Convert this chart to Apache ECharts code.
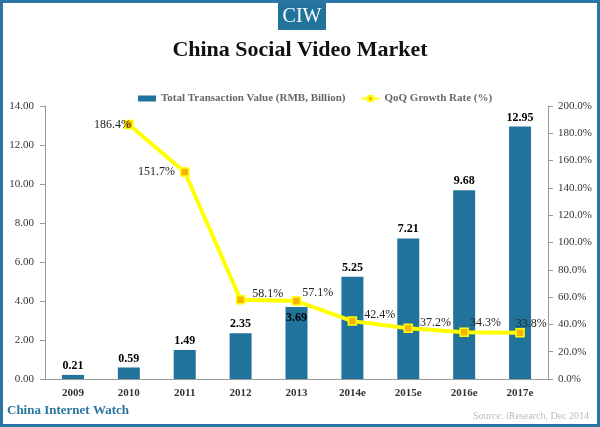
<!DOCTYPE html>
<html><head><meta charset="utf-8">
<script src="https://cdn.jsdelivr.net/npm/echarts@6/dist/echarts.min.js"></script>
<style>html,body{margin:0;padding:0;background:#fff}#c{width:600px;height:427px}</style>
</head><body><div id="c"></div>
<script>
const categories = ['2009','2010','2011','2012','2013','2014e','2015e','2016e','2017e'];
const transactionValue = [0.21, 0.59, 1.49, 2.35, 3.69, 5.25, 7.21, 9.68, 12.95];
const growthRate = [null, 186.4, 151.7, 58.1, 57.1, 42.4, 37.2, 34.3, 33.8];
const leftTicks = [0, 14, 2];
const rightTicks = [0, 200, 20];

const serif = 'Liberation Serif';
const chart = echarts.init(document.getElementById('c'));

const lineLabelPos = ['right','left','left','right','right','right','right','right','right'];
const lineLabelOff = [[0,0],[12,0],[0,0],[2,-6],[-4,-8],[2,-6],[2,-5],[-4,-9],[-14,-9]];

chart.setOption({
  animation: false,
  title: {
    text: 'China Social Video Market', left: 'center', top: 34,
    textStyle: {fontFamily: serif, fontWeight: 'bold', fontSize: 22, color: '#111'}
  },
  legend: {
    top: 88, left: 133, itemGap: 15, itemWidth: 18, itemHeight: 6,
    textStyle: {fontFamily: serif, fontSize: 11, color: '#666', fontWeight: 'bold'},
    data: [
      {name: 'Total Transaction Value (RMB, Billion)', icon: 'rect'},
      {name: 'QoQ Growth Rate (%)'}
    ]
  },
  grid: {left: 45, right: 52, top: 106, bottom: 48},
  xAxis: {
    type: 'category', data: categories,
    axisLine: {lineStyle: {color: '#999'}},
    axisTick: {show: false},
    axisLabel: {fontFamily: serif, fontWeight: 'bold', fontSize: 11, color: '#333', margin: 9}
  },
  yAxis: [
    {type: 'value', min: leftTicks[0], max: leftTicks[1], interval: leftTicks[2],
     axisLine: {show: true, lineStyle: {color: '#999'}},
     axisTick: {show: true, lineStyle: {color: '#999'}},
     splitLine: {show: false},
     axisLabel: {fontFamily: serif, fontSize: 11, color: '#333', formatter: v => v.toFixed(2), margin: 11}},
    {type: 'value', min: rightTicks[0], max: rightTicks[1], interval: rightTicks[2],
     axisLine: {show: true, lineStyle: {color: '#999'}},
     axisTick: {show: true, lineStyle: {color: '#999'}},
     splitLine: {show: false},
     axisLabel: {fontFamily: serif, fontSize: 11, color: '#333', formatter: v => v.toFixed(1) + '%', margin: 10}}
  ],
  series: [
    {
      name: 'Total Transaction Value (RMB, Billion)', type: 'bar', barWidth: 22,
      itemStyle: {color: '#21739b'},
      data: transactionValue.map((v, i) => ({
        value: v,
        label: i === 4 ? {position: 'insideTop', offset: [0, 2]} : undefined
      })),
      label: {show: true, position: 'top', distance: 3, fontFamily: serif, fontWeight: 'bold', fontSize: 12, color: '#000',
        formatter: p => p.value.toFixed(2)}
    },
    {
      name: 'QoQ Growth Rate (%)', type: 'line', yAxisIndex: 1,
      symbol: 'rect', symbolSize: 8,
      lineStyle: {color: '#ffff00', width: 4},
      itemStyle: {color: '#f5b400', borderColor: '#ffff00', borderWidth: 1.5},
      data: growthRate.map((v, i) => ({
        value: v,
        label: {position: lineLabelPos[i], offset: lineLabelOff[i]}
      })),
      label: {show: true, fontFamily: serif, fontSize: 12, color: '#222',
        formatter: p => p.value.toFixed(1) + '%'}
    }
  ],
  graphic: [
    {type: 'rect', shape: {x: 1.5, y: 1.5, width: 597, height: 424}, style: {fill: 'none', stroke: '#2a77a5', lineWidth: 3}, z: 100},
    {type: 'rect', shape: {x: 278, y: 3, width: 48, height: 27}, style: {fill: '#21739b'}},
    {type: 'text', style: {text: 'CIW', x: 302, y: 17, textAlign: 'center', textVerticalAlign: 'middle', fill: '#fff', font: '20px "Liberation Serif"'}},
    {type: 'text', style: {text: 'China Internet Watch', x: 7, y: 411, textVerticalAlign: 'middle', fill: '#2a75a0', font: 'bold 13px "Liberation Serif"'}},
    {type: 'text', style: {text: 'Source: iResearch, Dec 2014', x: 589, y: 416, textAlign: 'right', textVerticalAlign: 'middle', fill: '#bbb', font: '10px "Liberation Serif"'}}
  ]
});
</script></body></html>
